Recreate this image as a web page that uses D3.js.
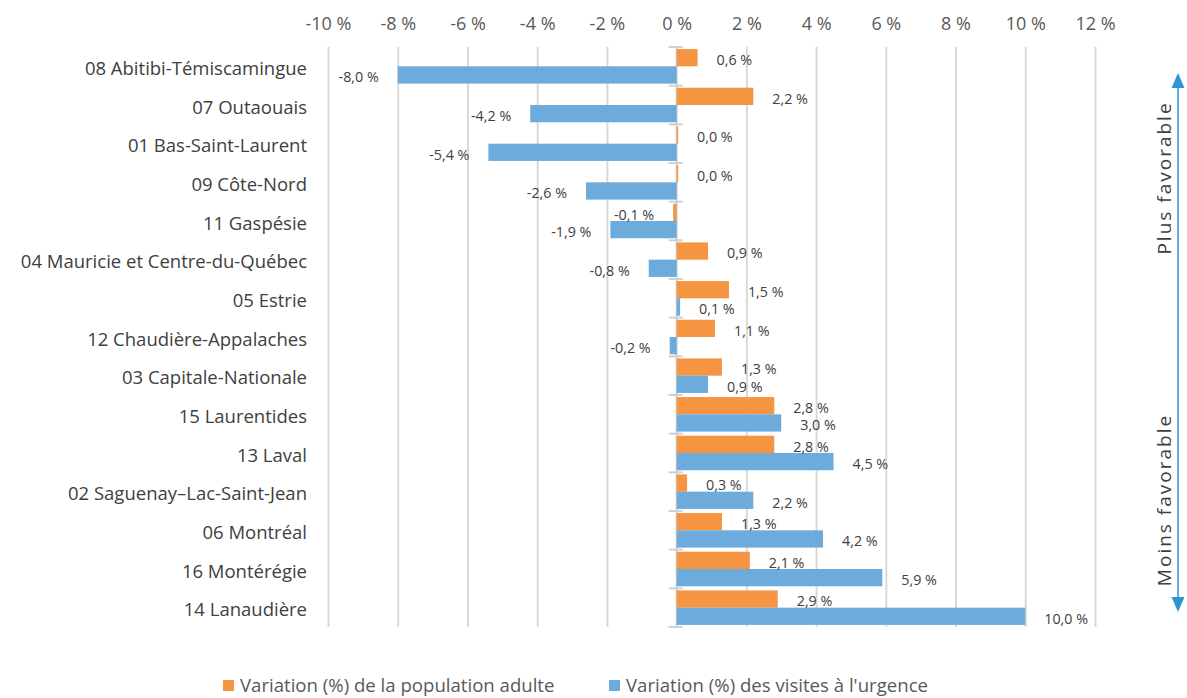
<!DOCTYPE html>
<html>
<head>
<meta charset="utf-8">
<script src="https://cdn.jsdelivr.net/npm/d3@7"></script>
<style>
  body { margin: 0; background: #fff; }
  svg { display: block; font-family: "Open Sans", sans-serif; }
</style>
</head>
<body>
<div id="chart"></div>
<script>
// regions, top to bottom
var regions = ["08 Abitibi-Témiscamingue", "07 Outaouais", "01 Bas-Saint-Laurent", "09 Côte-Nord",
    "11 Gaspésie", "04 Mauricie et Centre-du-Québec", "05 Estrie", "12 Chaudière-Appalaches",
    "03 Capitale-Nationale", "15 Laurentides", "13 Laval", "02 Saguenay–Lac-Saint-Jean",
    "06 Montréal", "16 Montérégie", "14 Lanaudière"];
// variation (%) de la population adulte
var popValues = [0.6, 2.2, 0.04, 0.04, -0.1, 0.9, 1.5, 1.1, 1.3, 2.8, 2.8, 0.3, 1.3, 2.1, 2.9];
// variation (%) des visites à l'urgence
var visitValues = [-8.0, -4.2, -5.4, -2.6, -1.9, -0.8, 0.1, -0.2, 0.9, 3.0, 4.5, 2.2, 4.2, 5.9, 10.0];
var xTicks = [-10, -8, -6, -4, -2, 0, 2, 4, 6, 8, 10, 12];
var seriesNames = ["Variation (%) de la population adulte", "Variation (%) des visites à l'urgence"];
var colors = ["#F59441", "#6CABDC"];

var width = 1187, height = 698;
var margin = {top: 47, left: 328, right: 92, bottom: 71};
var plotW = width - margin.left - margin.right;
var plotH = height - margin.top - margin.bottom;

var fmt = function(v) { return d3.format(".1f")(v).replace(".", ",").replace("−", "-") + " %"; };

var svg = d3.select("#chart").append("svg")
    .attr("width", width)
    .attr("height", height);

var g = svg.append("g")
    .attr("transform", "translate(" + margin.left + "," + margin.top + ")");

var xScale = d3.scaleLinear().domain([-10, 12]).range([0, plotW]);
var yScale = d3.scaleBand().domain(regions).range([0, plotH]).padding(0);
var ySub = d3.scaleBand().domain([0, 1]).range([0, yScale.bandwidth()])
    .paddingInner(0).paddingOuter(0.12);

// top axis + gridlines
var xAxis = d3.axisTop(xScale).tickValues(xTicks).tickSize(-plotH).tickPadding(17.5)
    .tickFormat(function(d) { return d + " %"; });
var gx = g.append("g").attr("class", "xAxis").call(xAxis)
    .attr("font-family", null).attr("font-size", null);
gx.select(".domain").remove();
gx.selectAll(".tick line").attr("stroke", "#d9d9d9").attr("stroke-width", 2);
gx.selectAll(".tick text").attr("fill", "#595959").style("font-size", "18px");
gx.selectAll(".tick").filter(function(d) { return d === 0; }).select("line").remove();

// category labels
var yAxis = d3.axisLeft(yScale).tickSize(0).tickPadding(21);
var gy = g.append("g").attr("class", "yAxis").call(yAxis)
    .attr("font-family", null).attr("font-size", null);
gy.select(".domain").remove();
gy.selectAll(".tick text").attr("fill", "#404040").attr("dy", "0.47em").style("font-size", "18.5px");

// zero axis with boundary ticks
var x0 = xScale(0);
g.append("line")
    .attr("x1", x0).attr("x2", x0)
    .attr("y1", 0).attr("y2", plotH)
    .attr("stroke", "#d0d0d0").attr("stroke-width", 2);
var bounds = regions.map(function(r) { return yScale(r); }).concat([plotH]);
g.selectAll(".ztick")
    .data(bounds)
    .enter()
    .append("line")
    .attr("class", "ztick")
    .attr("x1", x0 - 8).attr("x2", x0 + 6)
    .attr("y1", function(d) { return d; }).attr("y2", function(d) { return d; })
    .attr("stroke", "#d0d0d0").attr("stroke-width", 2);

// bars
var rows = regions.map(function(r, i) {
    return {region: r, vals: [popValues[i], visitValues[i]]};
});

var rowG = g.selectAll(".row")
    .data(rows)
    .enter()
    .append("g")
    .attr("class", "row")
    .attr("transform", function(d) { return "translate(0," + yScale(d.region) + ")"; });

var cells = rowG.selectAll(".cell")
    .data(function(d) { return d.vals.map(function(v, k) { return {v: v, k: k}; }); })
    .enter();

cells.append("rect")
    .attr("x", function(d) { return xScale(Math.min(0, d.v)); })
    .attr("y", function(d) { return ySub(d.k); })
    .attr("width", function(d) { return Math.max(1.5, Math.abs(xScale(d.v) - xScale(0))); })
    .attr("height", ySub.bandwidth())
    .attr("fill", function(d) { return colors[d.k]; });

cells.append("text")
    .attr("x", function(d) { return d.v < 0 ? xScale(d.v) - 19 : xScale(d.v) + 19; })
    .attr("y", function(d) { return ySub(d.k) + ySub.bandwidth() / 2 + 7.3; })
    .attr("text-anchor", function(d) { return d.v < 0 ? "end" : "start"; })
    .attr("fill", "#404040")
    .style("font-size", "14.3px")
    .text(function(d) { return fmt(d.v); });

// double arrow on the right
var ax = 1178, ayTop = 73, ayBot = 612;
var arrowColor = "#2F96D4";
svg.append("line")
    .attr("x1", ax).attr("x2", ax)
    .attr("y1", ayTop + 10).attr("y2", ayBot - 10)
    .attr("stroke", arrowColor).attr("stroke-width", 1.5);
svg.append("path")
    .attr("d", "M" + ax + "," + ayTop + "L" + (ax + 6.5) + "," + (ayTop + 15) + "L" + (ax - 6.5) + "," + (ayTop + 15) + "Z")
    .attr("fill", arrowColor);
svg.append("path")
    .attr("d", "M" + ax + "," + ayBot + "L" + (ax + 6.5) + "," + (ayBot - 15) + "L" + (ax - 6.5) + "," + (ayBot - 15) + "Z")
    .attr("fill", arrowColor);

svg.append("text")
    .attr("transform", "translate(1171,178) rotate(-90)")
    .attr("text-anchor", "middle")
    .attr("fill", "#404040")
    .style("font-size", "19px")
    .style("letter-spacing", "2px")
    .text("Plus favorable");
svg.append("text")
    .attr("transform", "translate(1171,500) rotate(-90)")
    .attr("text-anchor", "middle")
    .attr("fill", "#404040")
    .style("font-size", "19px")
    .style("letter-spacing", "2px")
    .text("Moins favorable");

// legend
var legendX = [223, 609];
var legend = svg.selectAll(".legend")
    .data(seriesNames)
    .enter()
    .append("g")
    .attr("class", "legend")
    .attr("transform", function(d, i) { return "translate(" + legendX[i] + ",680)"; });
legend.append("rect")
    .attr("width", 11).attr("height", 11)
    .attr("fill", function(d, i) { return colors[i]; });
legend.append("text")
    .attr("x", 17).attr("y", 11.5)
    .attr("fill", "#595959")
    .style("font-size", "18.6px")
    .text(function(d) { return d; });
</script>
</body>
</html>
